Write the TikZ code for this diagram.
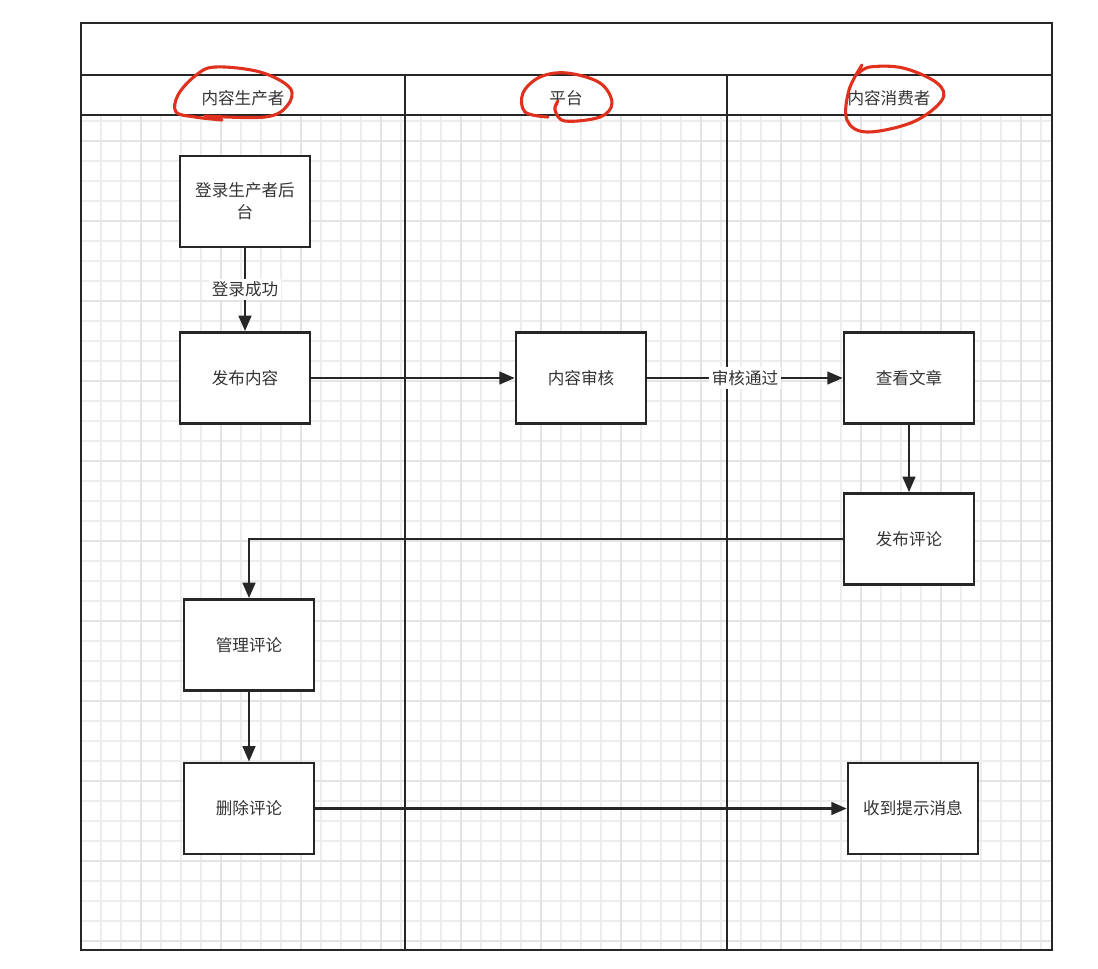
\documentclass[tikz,border=0pt]{standalone}
\usepackage{fontspec}
\setmainfont{Noto Sans CJK SC}
\usepackage{tikz}
\usepackage{xcolor}
\usetikzlibrary{arrows.meta}
\definecolor{framegray}{HTML}{262626}
\definecolor{minorgray}{HTML}{EDEDED}
\definecolor{majorgray}{HTML}{E3E3E3}
\definecolor{markred}{HTML}{E0301E}
\definecolor{inkgray}{HTML}{333333}

\begin{document}
\begin{tikzpicture}[x=0.025cm,y=-0.025cm,
  every node/.style={font=\fontsize{11.8}{15.5}\selectfont, text=inkgray},
  box/.style={draw=framegray, line width=1.8pt, fill=white, minimum width=3.25cm, minimum height=2.28cm, align=center, inner sep=2pt},
  flow/.style={draw=framegray, line width=1.8pt, -{Triangle[length=11pt,width=9pt]}},
  tag/.style={fill=white, inner sep=2pt},
  lane/.style={draw=framegray, line width=1.9pt},
  scrawl/.style={draw=markred, line width=2.2pt, line cap=round, line join=round}]
\useasboundingbox (0,0) rectangle (1098,968);
% grid background
\foreach \x in {101,121,...,1041} \draw[minorgray, line width=0.8pt] (\x,115) -- (\x,950);
\foreach \y in {121,141,...,941} \draw[minorgray, line width=0.8pt] (81,\y) -- (1052,\y);
\foreach \x in {141,221,...,1041} \draw[majorgray, line width=1pt] (\x,115) -- (\x,950);
\foreach \y in {141,221,...,941} \draw[majorgray, line width=1pt] (81,\y) -- (1052,\y);
% pool and lanes
\draw[lane] (81,23) rectangle (1052,950);
\draw[lane] (81,75) -- (1052,75);
\draw[lane] (81,115) -- (1052,115);
\draw[lane] (405,75) -- (405,950);
\draw[lane] (727,75) -- (727,950);
\node (producer) at (243,98) {内容生产者};
\node (platform) at (566,98) {平台};
\node (consumer) at (889,98) {内容消费者};
% red marks
\draw[scrawl] plot[smooth, tension=0.6] coordinates {(222,120) (195,117) (176,112) (178,95) (195,76) (215,67) (260,72) (290,88) (287,106) (265,117) (205,116)};
\draw[scrawl] plot[smooth, tension=0.6] coordinates {(548,117) (525,112) (523,93) (540,77) (567,73) (600,83) (612,103) (600,117) (565,121) (555,110) (558,101)};
\draw[scrawl] plot[smooth, tension=0.6] coordinates {(862,65) (849,90) (847,120) (867,132) (913,122) (942,100) (937,83) (903,68) (870,67) (858,74)};
% steps
\node[box] (login) at (245,201.5) {登录生产者后\\台};
\node[box] (publish) at (245,378) {发布内容};
\node[box] (review) at (581,378) {内容审核};
\node[box] (read) at (909,378) {查看文章};
\node[box] (comment) at (909,539) {发布评论};
\node[box] (manage) at (249,645) {管理评论};
\node[box] (delete) at (249,808.5) {删除评论};
\node[box] (notify) at (913,808.5) {收到提示消息};
% connectors
\draw[flow] (login) -- node[tag] {登录成功} (publish);
\draw[flow] (publish) -- (review);
\draw[flow] (review) -- node[tag] {审核通过} (read);
\draw[flow] (read) -- (comment);
\draw[flow] (comment.west) -| (manage.north);
\draw[flow] (manage) -- (delete);
\draw[flow] (delete) -- (notify);
\end{tikzpicture}
\end{document}
